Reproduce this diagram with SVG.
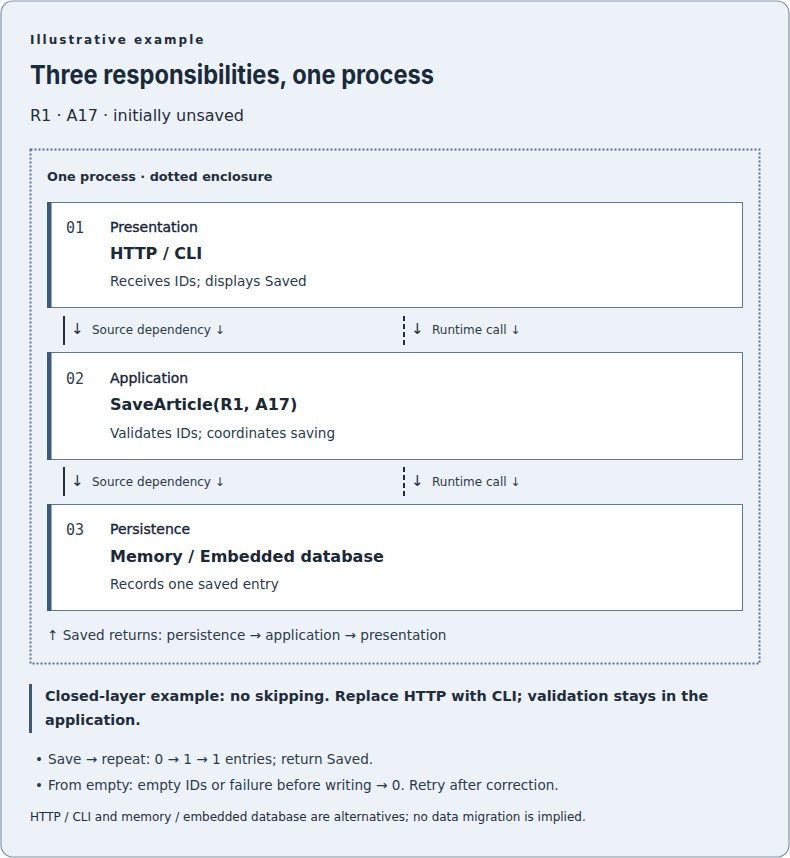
<svg xmlns="http://www.w3.org/2000/svg" width="790" height="858" viewBox="0 0 790 858">
<style>
.t{font-family:"DejaVu Sans",sans-serif;fill:#1f2d3d}
.mono{font-family:"DejaVu Sans Mono",monospace;fill:#2f3e4f;font-size:15px}
.lbl{font-size:14px;fill:#17243a;stroke:#17243a;stroke-width:0.35}
.ttl{font-size:16px;font-weight:bold;fill:#1b2838}
.dsc{font-size:13.6px;fill:#2b3a4a}
.node{fill:#ffffff;stroke:#62788f;stroke-width:1}
.bar{fill:#3b5a78}
.con{font-size:12px;fill:#2b3a4a}
.arr{font-size:15px;fill:#1f2d3d}
.note{font-size:13.6px;fill:#2b3a4a}
</style>
<rect x="1" y="1" width="788" height="856" rx="12" fill="#edf2f9" stroke="#8496a9" stroke-width="1.2"/>
<text class="t" x="30" y="44" font-size="12" font-weight="bold" letter-spacing="2" fill="#1f2d3d">Illustrative example</text>
<text x="30" y="84" font-family="Inter, 'Noto Sans', sans-serif" font-size="26" font-weight="700" fill="#1b2a3b" textLength="404" lengthAdjust="spacingAndGlyphs">Three responsibilities, one process</text>
<text class="t" x="30" y="121" font-size="16" fill="#2b3a4a">R1 · A17 · initially unsaved</text>
<g id="enclosure">
<rect x="30.5" y="149.5" width="729" height="514" fill="none" stroke="#56708c" stroke-width="2" stroke-dasharray="2 2"/>
<text class="t" x="47" y="181" font-size="12.8" font-weight="bold">One process · dotted enclosure</text>
</g>
<g id="presentation">
<rect class="node" x="47.5" y="202.5" width="695" height="105"/>
<rect class="bar" x="47" y="202" width="4.5" height="106"/>
<text class="mono" x="66" y="233">01</text>
<text class="t lbl" x="110" y="232">Presentation</text>
<text class="t ttl" x="110" y="259">HTTP / CLI</text>
<text class="t dsc" x="110" y="286">Receives IDs; displays Saved</text>
</g>
<g id="application">
<rect class="node" x="47.5" y="352.5" width="695" height="107"/>
<rect class="bar" x="47" y="352" width="4.5" height="108"/>
<text class="mono" x="66" y="384">02</text>
<text class="t lbl" x="110" y="383">Application</text>
<text class="t ttl" x="110" y="410">SaveArticle(R1, A17)</text>
<text class="t dsc" x="110" y="438">Validates IDs; coordinates saving</text>
</g>
<g id="persistence">
<rect class="node" x="47.5" y="504.5" width="695" height="106"/>
<rect class="bar" x="47" y="504" width="4.5" height="107"/>
<text class="mono" x="66" y="535">03</text>
<text class="t lbl" x="110" y="534">Persistence</text>
<text class="t ttl" x="110" y="562">Memory / Embedded database</text>
<text class="t dsc" x="110" y="589">Records one saved entry</text>
</g>
<g id="connectors">
<line x1="64" y1="316" x2="64" y2="345" stroke="#1f2d3d" stroke-width="2"/>
<text class="t arr" x="71" y="334">↓</text>
<text class="t con" x="92" y="334">Source dependency ↓</text>
<line x1="404" y1="316" x2="404" y2="345" stroke="#1f2d3d" stroke-width="2" stroke-dasharray="5 3"/>
<text class="t arr" x="411" y="334">↓</text>
<text class="t con" x="432" y="334">Runtime call ↓</text>
<line x1="64" y1="467" x2="64" y2="496" stroke="#1f2d3d" stroke-width="2"/>
<text class="t arr" x="71" y="486">↓</text>
<text class="t con" x="92" y="486">Source dependency ↓</text>
<line x1="404" y1="467" x2="404" y2="496" stroke="#1f2d3d" stroke-width="2" stroke-dasharray="5 3"/>
<text class="t arr" x="411" y="486">↓</text>
<text class="t con" x="432" y="486">Runtime call ↓</text>
<text class="t dsc" x="47" y="640">↑ Saved returns: persistence → application → presentation</text>
</g>
<g id="callout">
<rect x="29" y="684" width="3" height="49" fill="#3b5a78"/>
<text class="t" x="45" y="701" font-size="14.4" font-weight="bold" fill="#1b2838">Closed-layer example: no skipping. Replace HTTP with CLI; validation stays in the</text>
<text class="t" x="45" y="725" font-size="14.4" font-weight="bold" fill="#1b2838">application.</text>
</g>
<g id="notes">
<text class="t note" x="35" y="764">•</text>
<text class="t note" x="48" y="764">Save → repeat: 0 → 1 → 1 entries; return Saved.</text>
<text class="t note" x="35" y="790">•</text>
<text class="t note" x="48" y="790">From empty: empty IDs or failure before writing → 0. Retry after correction.</text>
<text class="t" x="30" y="821" font-size="12" fill="#2b3a4a">HTTP / CLI and memory / embedded database are alternatives; no data migration is implied.</text>
</g>
</svg>
